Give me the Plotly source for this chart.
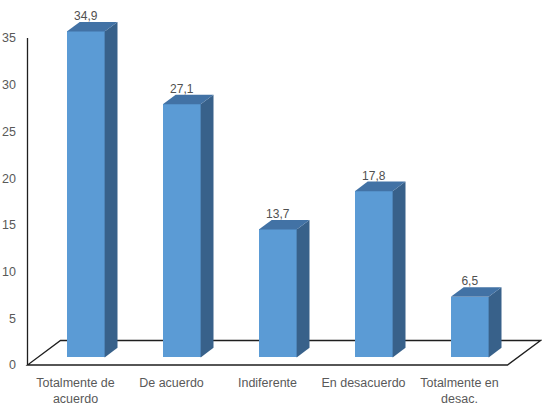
import plotly.graph_objects as go

categories = ["Totalmente de<br>acuerdo", "De acuerdo", "Indiferente", "En desacuerdo", "Totalmente en<br>desac."]
values = [34.9, 27.1, 13.7, 17.8, 6.5]
y_ticks = [0, 5, 10, 15, 20, 25, 30, 35]

# geometry (data units)
W, H = 542, 408
PX_X = 96.0          # px per category
PX_Y = 9.34          # px per value unit
X0_PIX = 27.5        # pixel of x=-0.5
Y0_PIX = 365.0       # pixel of y=0
DX = 33 / PX_X       # floor depth (x)
DY = 24.5 / PX_Y     # floor depth (y)
OX = 0.31 * DX       # bar front offset within depth
OY = 0.31 * DY
BX = 0.39 * DX       # bar depth
BY = 0.39 * DY
BW = 37.8 / PX_X     # bar width

FRONT = "#5B9BD5"
SIDE = "#38618A"
TOP = "#4272A5"

ML, MB = 22, 36
xlo = -0.5 - (X0_PIX - ML) / PX_X
xhi = -0.5 + (W - X0_PIX) / PX_X
ylo = -((H - MB) - Y0_PIX) / PX_Y
yhi = Y0_PIX / PX_Y

n = len(values)
xs = list(range(n))

fig = go.Figure()

# front faces
fig.add_trace(go.Bar(
    x=[i + OX for i in xs], y=values, base=[OY] * n, width=BW,
    marker=dict(color=FRONT, line=dict(width=0)), showlegend=False, hoverinfo="skip"))

for i, v in zip(xs, values):
    xl = i + OX - BW / 2
    xr = i + OX + BW / 2
    yb = OY
    yt = OY + v
    # side face
    fig.add_trace(go.Scatter(
        x=[xr, xr + BX, xr + BX, xr, xr], y=[yb, yb + BY, yt + BY, yt, yb],
        mode="lines", fill="toself", fillcolor=SIDE, line=dict(width=0, color=SIDE),
        showlegend=False, hoverinfo="skip"))
    # top face
    fig.add_trace(go.Scatter(
        x=[xl, xl + BX, xr + BX, xr, xl], y=[yt, yt + BY, yt + BY, yt, yt],
        mode="lines", fill="toself", fillcolor=TOP, line=dict(width=0, color=TOP),
        showlegend=False, hoverinfo="skip"))

# data labels
fig.add_trace(go.Scatter(
    x=[i + OX for i in xs], y=[OY + v + BY + 0.5 for v in values],
    mode="text", text=[f"{v:.1f}".replace(".", ",") for v in values],
    textposition="middle center",
    textfont=dict(family="Liberation Sans, Arial", size=12, color="#505050"),
    showlegend=False, hoverinfo="skip", cliponaxis=False))

# floor
floor_path = (f"M {-0.5},0 L {n - 0.5},0 L {n - 0.5 + DX},{DY} "
              f"L {-0.5 + DX},{DY} Z")
fig.add_shape(type="path", path=floor_path, xref="x", yref="y",
              line=dict(color="#1f1f1f", width=1.3), fillcolor="white", layer="below")
# vertical axis line
fig.add_shape(type="line", x0=-0.5, x1=-0.5, y0=0, y1=y_ticks[-1], xref="x", yref="y",
              line=dict(color="#1f1f1f", width=1.3), layer="below")

fig.update_layout(
    width=W, height=H,
    margin=dict(l=ML, r=0, t=0, b=MB),
    paper_bgcolor="white", plot_bgcolor="white",
    font=dict(family="Liberation Sans, Arial", size=12, color="#595959"),
    xaxis=dict(range=[xlo, xhi], tickvals=xs, ticktext=categories, showgrid=False,
               zeroline=False, showline=False, ticks="", automargin=False,
               ticklabelstandoff=1,
               tickfont=dict(size=12.5, color="#595959")),
    yaxis=dict(range=[ylo, yhi], tickvals=y_ticks, showgrid=False, zeroline=False,
               showline=False, ticks="", automargin=False, ticklabelstandoff=5,
               tickfont=dict(size=12.5, color="#595959")),
    bargap=0,
)

fig.write_html("out.html")
